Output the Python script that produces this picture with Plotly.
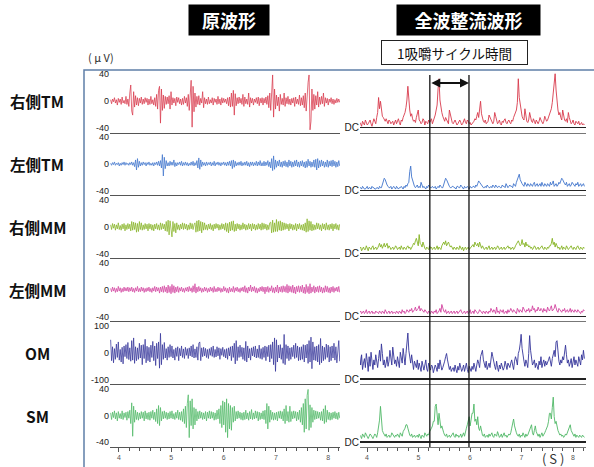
import numpy as np
import plotly.graph_objects as go

W, H = 594, 467

# ---------------- data ----------------
T0 = 3.84          # first sample time (s)
DT = 0.01833       # sample spacing (s)

row_names = ["右側TM", "左側TM", "右側MM", "左側MM", "OM", "SM"]
raw_tick = [40, 40, 40, 40, 100, 40]          # +/- tick value of the raw panels (μV)
time_ticks = [4, 5, 6, 7, 8]
cycle_bounds = [5.22, 5.98]                   # one masticatory cycle (s)

r_tm = [2, -4, 3, -1, 5, -3, 2, -6, 4, -2, 3, -5, 6, -3, 1, -4, 7, -5, 3, -8,
        12, 24, -15, -21, 14, -9, 8, -6, 5, -7, 4, -3, 6, -5, 3, -4, 5, -2, 4, -6,
        3, -5, 7, -4, 2, -6, 5, -8, 10, -12, 16, 22, -33, 18, -14, 9, -11, 7, -5, 6,
        -4, 8, -12, 14, -6, 5, -3, 4, -7, 6, -2, 5, -4, 3, -6, 4, -5, 7, -3, 5,
        -8, 10, -14, 18, 31, -39, 22, -16, 12, -9, 7, -5, 8, -6, 4, -3, 14, -10, 5, -4,
        3, -5, 6, -4, 2, -3, 5, -6, 4, -2, 3, -5, 7, -4, 3, -6, 5, -3, 4, -2,
        3, -4, 5, -7, 6, -9, 12, -8, 16, -21, 11, -7, 5, -4, 6, -3, 4, -5, 10, -8,
        6, -4, 3, -5, 12, -9, 5, -3, 4, -6, 3, -2, 5, -4, 6, -7, 4, -3, 5, -6,
        4, -3, 6, -5, 8, -10, 12, -14, 20, 39, -24, 18, -12, 9, -7, 6, -15, 10, -5, 4,
        -6, 12, -8, 5, -4, 7, -5, 3, -6, 4, -3, 5, -8, 6, -4, 3, -5, 9, -7, 5,
        -6, 8, -10, 12, -15, 20, 28, 39, -43, -30, 18, -14, 10, -12, 8, -6, 14, -9, 6, -5,
        7, -4, 12, -8, 5, -3, 4, -6, 3, -2, 5, -4, 3, -5, 2, -3, 4, -2, 3, -2]

l_tm = [1, -2, 2, -1, 3, -2, 1, -1, 2, -3, 1, -2, 2, -1, 3, -2, 2, -1, 1, -2,
        2, -1, 3, -2, 2, -4, 6, -9, 8, -5, 4, -3, 2, -2, 3, -1, 2, -3, 2, -1,
        3, -2, 1, -2, 2, -3, 2, -1, 3, -2, 4, -3, 5, -6, 14, -18, 10, -7, 5, -3,
        2, -3, 4, -2, 3, -2, 6, -4, 2, -3, 2, -1, 3, -2, 4, -3, 2, -2, 3, -2,
        2, -3, 1, -2, 3, -2, 4, -3, 2, -2, 5, -6, 9, -8, 6, -4, 3, -2, 2, -3,
        3, -2, 2, -1, 3, -3, 2, -2, 4, -3, 2, -1, 3, -2, 2, -3, 2, -1, 3, -2,
        2, -3, 3, -2, 4, -3, 5, -7, 6, -5, 4, -3, 2, -2, 3, -2, 4, -3, 2, -2,
        3, -2, 4, -3, 2, -4, 3, -2, 3, -3, 2, -2, 4, -3, 3, -2, 5, -3, 2, -3,
        4, -3, 3, -2, 5, -4, 3, -6, 8, -10, 12, -8, 6, -5, 4, -3, 6, -4, 3, -5,
        4, -3, 5, -4, 3, -5, 6, -3, 4, -5, 3, -4, 5, -3, 6, -4, 3, -5, 4, -3,
        5, -4, 3, -6, 4, -5, 7, -3, 4, -5, 3, -4, 6, -5, 7, -9, 8, -6, 5, -4,
        6, -3, 4, -5, 3, -4, 6, -5, 4, -3, 5, -4, 6, -3, 4, -5, 3, -4, 5, -3]

r_mm = [3, -4, 5, -2, 4, -5, 3, -3, 6, -4, 2, -5, 4, -3, 5, -6, 3, -4, 5, -3,
        4, -6, 8, -5, 7, -4, 6, -8, 5, -7, 8, -4, 6, -5, 3, -4, 5, -3, 4, -6,
        5, -3, 4, -5, 3, -6, 4, -3, 5, -4, 3, -5, 6, -4, 5, -3, 4, -6, 8, -7,
        10, -12, 9, -6, -15, 8, -7, 5, -9, 6, -4, 3, -5, 4, -3, 6, -4, 5, -3, 4,
        -5, 3, -4, 6, -3, 5, -4, 3, 6, -8, 9, -7, 10, -6, 8, -9, 7, -5, 6, -4,
        3, -5, 4, -3, 5, -4, 3, -6, 4, -3, 5, -2, 4, -5, 3, -4, 5, -3, 4, -5,
        6, -7, 5, -9, 7, -6, 8, -5, 9, -7, 4, -6, 5, -3, 4, -5, 3, -4, 6, -3,
        4, -5, 3, -4, 5, -3, 4, -6, 5, -3, 4, -5, 3, -4, 5, -3, 4, -5, 6, -4,
        5, -3, 4, -5, 3, -4, 6, 7, -9, 10, -8, 6, -7, 11, -7, 8, -5, 9, -6, 7,
        -5, 6, -4, 5, -3, 4, -6, 5, -3, 4, -5, 3, -4, 5, -6, 4, -3, 5, -4, 3,
        -5, 4, -6, 6, -8, 12, -7, 9, -5, 8, -6, 4, -5, 3, -4, 6, -3, 5, -4, 3,
        -6, 5, -3, 4, -5, 6, -4, 3, -5, 4, -3, 5, -6, 4, -3, 5, -4, 3, -5, 4]

l_mm = [2, -3, 4, -2, 3, -4, 2, -3, 5, -2, 3, -4, 2, -3, 4, -2, 3, -2, 4, -3,
        3, -2, 4, -3, 2, -4, 3, -2, 5, -3, 2, -3, 4, -2, 3, -4, 2, -3, 3, -2,
        4, -3, 2, -4, 3, -2, 5, -3, 4, -2, 3, -5, 4, -3, 5, -4, 6, -3, 4, -5,
        7, -4, 5, -6, 8, -4, 6, -5, 4, -3, 5, -4, 3, -2, 4, -3, 2, -4, 3, -2,
        4, -3, 5, -2, 3, -4, 6, -3, 9, -5, 4, -3, 5, -2, 3, -4, 2, -3, 4, -2,
        3, -4, 2, -3, 4, -2, 3, -4, 5, -3, 2, -3, 4, -2, 3, -4, 2, -3, 5, -2,
        3, -4, 2, -5, 4, -3, 2, -3, 5, -4, 3, -2, 4, -3, 2, -4, 3, -2, 4, -3,
        6, -4, 3, -5, 4, -2, 7, -3, 4, -2, 5, -4, 3, -5, 2, -3, 4, -2, 5, -3,
        4, -6, 4, -3, 5, -4, 3, -2, 6, -4, 3, -5, 4, -3, 7, -5, 4, -3, 5, -4,
        6, -3, 5, -4, 8, -5, 6, -3, 5, -4, 7, -5, 4, -6, 5, -3, 6, -4, 5, -3,
        7, -5, 4, -6, 8, -4, 5, -6, 9, -5, 4, -3, 6, -5, 4, -3, 5, -4, 6, -3,
        4, -5, 3, -4, 6, -3, 5, -4, 3, -5, 4, -3, 5, -4, 3, -2, 4, -3, 5, -4]

om = [48, -30, 22, -38, 15, -25, 32, -18, 40, -28, 12, -35, 20, -42, 25, -15, 30, -22, 38, -26,
      18, -32, 45, -28, 55, -40, 22, -30, 18, -25, 35, -20, 28, -45, 30, -22, 50, -38, 24, -30,
      20, -35, 28, -18, 42, -30, 25, -48, 35, -22, 40, -58, 72, -45, 30, -25, 38, -20, 15, -28,
      22, -18, 30, -15, 25, -20, 12, -28, 18, -14, 22, -30, 16, -12, 25, -18, 14, -22, 20, -10,
      15, -22, 18, -12, 25, -16, 30, -20, 14, -18, 22, -28, 35, 40, -30, 18, -15, 20, -12, 16,
      -18, 12, -22, 15, -10, 20, -14, 25, -18, 12, -16, 22, -12, 18, -25, 15, -10, 20, -15, 12,
      -20, 15, -25, 18, -12, 22, -30, 25, -18, 35, -42, 45, -30, 22, -18, 28, -15, 20, -25, 18,
      -30, 42, -35, 25, -20, 15, -28, 18, -12, 22, -16, 25, -20, 14, -18, 28, -22, 15, -25, 20,
      -18, 25, -30, 22, -15, 28, -35, 30, -22, 40, -45, 55, -70, 48, -35, 28, -20, 30, -25, 18,
      -40, 68, -45, 30, -22, 25, -30, 18, -25, 20, -15, 28, -22, 35, -18, 25, -30, 20, -28, 22,
      -25, 30, -35, 28, -20, 32, -40, 45, -35, 58, -60, 40, -28, 22, -30, 25, -35, 30, -45, 53,
      -38, 25, -30, 20, -25, 32, -18, 28, -35, 22, -30, 25, -20, 35, -28, 22, -38, 30, 45, -32]

sm = [4, -6, 5, -3, 7, -5, 4, -8, 6, -4, 3, -5, 7, -6, 4, -3, 5, -7, 6, -4,
      8, -12, 19, -31, 14, -10, 8, -6, 5, -7, 4, -5, 6, -4, 5, -8, 7, -5, 4, -6,
      5, -7, 6, -4, 8, -6, 5, -9, 10, -12, 15, -15, 12, -8, 6, -5, 7, -4, 5, -6,
      4, -5, 6, -4, 7, -5, 3, -6, 5, -4, 8, -6, 5, -7, 6, -9, 10, -12, 14, -18,
      18, 31, -33, 22, -15, 25, -20, 12, -14, 10, -8, 6, -5, 7, -4, 5, -6, 4, -5, 6,
      -8, 5, -4, 7, -5, 6, -4, 5, -7, 4, -6, 8, -5, 10, -12, 15, -18, 22, -14, 20,
      -25, 25, -33, 18, -20, 15, -22, 12, -10, 14, -8, 6, -5, 7, -4, 5, -6, 4, -7, 5,
      -6, 8, -5, 4, -7, 6, -5, 9, -6, 4, -5, 7, -4, 6, -8, 5, -6, 4, -5, 7,
      -6, 8, -12, 18, -20, 14, -10, 8, -6, 5, -7, 4, -6, 5, -8, 6, -4, 7, -5, 6,
      -8, 10, -12, 15, -8, 6, -10, 14, -9, 6, -5, 7, -4, 6, -8, 5, -6, 8, -10, 12,
      -14, 18, -25, 25, -20, 30, 39, -22, 16, -18, 12, -10, 8, -6, 7, -5, 6, -4, 5, -7,
      6, -8, 10, -12, 15, -10, 8, -6, 5, -7, 4, -6, 5, -4, 6, -5, 4, -6, 5, -4]

series = [r_tm, l_tm, r_mm, l_mm, om, sm]

# ---------------- style ----------------
colors = ["#d83a4c", "#3f74cc", "#86b324", "#d2439f", "#34349a", "#4fb866"]
rect_gain = [1.25, 1.35, 1.25, 1.3, 0.64, 1.15]   # px per μV in rectified panels

def fx(px):
    return px / W

def fy(py):
    return 1 - py / H

ROW_H = 62.9
fig = go.Figure()
layout = {}
for r in range(6):
    vals = np.array(series[r], dtype=float)
    t = T0 + DT * np.arange(len(vals))
    bottom = 447 - ROW_H * (5 - r)
    top = bottom - ROW_H
    k1, k2 = 2 * r + 1, 2 * r + 2
    last = (r == 5)
    fig.add_trace(go.Scatter(x=t, y=vals, mode="lines", xaxis=f"x{k1}", yaxis=f"y{k1}",
                             line=dict(color=colors[r], width=0.75), hoverinfo="skip"))
    fig.add_trace(go.Scatter(x=t, y=np.abs(vals), mode="lines", xaxis=f"x{k2}", yaxis=f"y{k2}",
                             line=dict(color=colors[r], width=0.9), hoverinfo="skip"))
    xcommon = dict(showgrid=False, zeroline=False, showline=True, linewidth=1,
                   tickvals=time_ticks, showticklabels=last,
                   ticks="outside" if last else "", ticklen=4, tickcolor="#555",
                   tickfont=dict(size=7, color="#555"))
    if last:
        xcommon["minor"] = dict(dtick=0.2, ticks="outside", ticklen=2.5, tickcolor="#555")
    rng = raw_tick[r] * 47 / 40
    layout[f"xaxis{k1}"] = dict(domain=[fx(110), fx(340)], range=[3.828, 8.226],
                                anchor=f"y{k1}", linecolor="#555", **xcommon)
    layout[f"yaxis{k1}"] = dict(domain=[fy(bottom), fy(top)], range=[-rng, rng],
                                anchor=f"x{k1}", showgrid=False, zeroline=False,
                                showline=False, ticks="",
                                tickvals=[-raw_tick[r], 0, raw_tick[r]],
                                ticktext=[f"-{raw_tick[r]}", "0", f"{raw_tick[r]}"],
                                tickfont=dict(size=9, color="#222"))
    g = rect_gain[r]
    layout[f"xaxis{k2}"] = dict(domain=[fx(360), fx(586)], range=[3.864, 8.252],
                                anchor=f"y{k2}", linecolor="#777", **xcommon)
    layout[f"yaxis{k2}"] = dict(domain=[fy(bottom), fy(top)], range=[-5 / g, (ROW_H - 5) / g],
                                anchor=f"x{k2}", showgrid=False, zeroline=True,
                                zerolinecolor="#222", zerolinewidth=1.3, showline=False,
                                ticks="", tickvals=[0], ticktext=["DC"],
                                tickfont=dict(size=10, color="#222"))

shapes = [
    dict(type="rect", xref="paper", yref="paper", x0=fx(84), x1=1.05, y0=fy(70), y1=-0.05,
         line=dict(color="#5f7fa8", width=1.5), layer="below"),
]
for b in cycle_bounds:
    shapes.append(dict(type="line", xref="x12", yref="paper", x0=b, x1=b,
                       y0=fy(447), y1=fy(75), line=dict(color="#111", width=1.3)))

cjk = "Noto Sans CJK JP"
C = dict(xanchor="center", yanchor="middle", showarrow=False, xref="paper", yref="paper")
annotations = [
    dict(x=fx(229), y=fy(20), text="<b>原波形</b>",
         font=dict(family=cjk, size=18, color="white"), bgcolor="black", width=78, height=28, **C),
    dict(x=fx(468), y=fy(20), text="<b>全波整流波形</b>",
         font=dict(family=cjk, size=18, color="white"), bgcolor="black", width=141, height=28, **C),
    dict(x=fx(454), y=fy(53), text="1吸嚼サイクル時間",
         font=dict(family=cjk, size=13.5, color="#111"), bgcolor="white",
         bordercolor="#222", borderwidth=1, width=143, height=21, **C),
    dict(x=fx(101), y=fy(57), text="( μ V)",
         font=dict(family=cjk, size=11, color="#333"), **C),
    dict(x=fx(553), y=fy(458), text="( S )",
         font=dict(family=cjk, size=13, color="#333"), **C),
    dict(xref="x12", yref="paper", x=cycle_bounds[1], y=fy(83), axref="x12", ayref="pixel",
         ax=cycle_bounds[0], ay=0, text="", showarrow=True, arrowhead=2, startarrowhead=2,
         arrowside="end+start", arrowwidth=1.8, arrowsize=1, arrowcolor="#111",
         standoff=0, startstandoff=0),
]
for r, name in enumerate(row_names):
    center = 447 - ROW_H * (5 - r) - ROW_H / 2
    annotations.append(dict(x=fx(37), y=fy(center), text=f"<b>{name}</b>",
                            font=dict(family=cjk, size=15.5, color="#111"), **C))

fig.update_layout(width=W, height=H, margin=dict(l=0, r=0, t=0, b=0),
                  paper_bgcolor="white", plot_bgcolor="rgba(0,0,0,0)",
                  showlegend=False, font=dict(family="Liberation Sans, Arial"),
                  shapes=shapes, annotations=annotations, **layout)
fig.write_html("out.html", config={"displayModeBar": False, "staticPlot": True},
               post_script="document.body.style.margin='0px';document.body.style.overflow='hidden';")
